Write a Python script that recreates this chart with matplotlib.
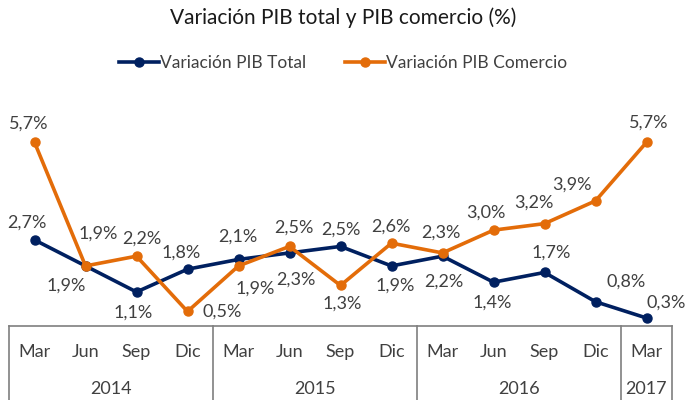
import matplotlib
matplotlib.use('Agg')
import matplotlib.pyplot as plt
import matplotlib.transforms as mtransforms
import numpy as np

plt.rcParams['font.family'] = ['Lato', 'DejaVu Sans']

months = ['Mar', 'Jun', 'Sep', 'Dic'] * 3 + ['Mar']
years = ['2014', '2015', '2016', '2017']
year_spans = [(0, 4), (4, 8), (8, 12), (12, 13)]

pib_total = [2.7, 1.9, 1.1, 1.8, 2.1, 2.3, 2.5, 1.9, 2.2, 1.4, 1.7, 0.8, 0.3]
pib_comercio = [5.7, 1.9, 2.2, 0.5, 1.9, 2.5, 1.3, 2.6, 2.3, 3.0, 3.2, 3.9, 5.7]

c_total = '#002060'
c_com = '#E36C09'
ctxt = '#404040'

# label offsets in pixels (dx, dy), dy positive = up
off_total = [(-8, 17), (-19, -20), (-3, -21), (-6, 17), (-1, 23), (6, -27),
             (0, 17), (4, -20), (1, -25), (-1, -20), (7, 20), (31, 20), (20, 15)]
off_com = [(-6, 19), (13, 32), (5, 18), (35, 0), (17, -23), (4, 19),
           (2, -18), (-1, 17), (-2, 20), (-8, 18), (-11, 21), (-24, 16), (2, 20)]

fs = 13

fig = plt.figure(figsize=(6.86, 4.0), dpi=100)
ax = fig.add_axes([9 / 686, 74 / 400, 663 / 686, 226 / 400])

x = np.arange(len(months)) + 0.5
ax.plot(x, pib_total, color=c_total, lw=2.6, marker='o', ms=6.5,
        label='Variación PIB Total', zorder=3)
ax.plot(x, pib_comercio, color=c_com, lw=2.6, marker='o', ms=6.5,
        label='Variación PIB Comercio', zorder=3)

for xi, v, (dx, dy) in zip(x, pib_total, off_total):
    ax.annotate(('%.1f%%' % v).replace('.', ','), (xi, v), xytext=(dx, dy),
                textcoords='offset pixels', ha='center', va='center',
                fontsize=fs, color=ctxt, annotation_clip=False)
for xi, v, (dx, dy) in zip(x, pib_comercio, off_com):
    ax.annotate(('%.1f%%' % v).replace('.', ','), (xi, v), xytext=(dx, dy),
                textcoords='offset pixels', ha='center', va='center',
                fontsize=fs, color=ctxt, annotation_clip=False)

ax.set_xlim(0, len(months))
ax.set_ylim(0.054, 7.0)
for s in ['left', 'right', 'top']:
    ax.spines[s].set_visible(False)
ax.spines['bottom'].set_color('#7f7f7f')
ax.spines['bottom'].set_linewidth(1.2)
ax.set_xticks([])
ax.set_yticks([])

# two-level category axis
trans = mtransforms.blended_transform_factory(ax.transData, ax.transAxes)
bounds = sorted(set([b for span in year_spans for b in span]))
for b in bounds:
    ax.plot([b, b], [0, -0.35], color='#7f7f7f', lw=1.2, transform=trans,
            clip_on=False)
for xi, m in zip(x, months):
    ax.text(xi, -0.115, m, transform=trans, ha='center', va='center',
            fontsize=fs, color=ctxt)
for (a, b), yr in zip(year_spans, years):
    ax.text((a + b) / 2., -0.279, yr, transform=trans, ha='center',
            va='center', fontsize=fs, color=ctxt)

fig.text(0.5, 1 - 18 / 400., 'Variación PIB total y PIB comercio (%)',
         ha='center', va='center', fontsize=15, color='#1a1a1a')
fig.legend(loc='center', bbox_to_anchor=(0.5, 1 - 63 / 400.), ncol=2,
           frameon=False, fontsize=12.5, handlelength=2.3, columnspacing=2.2,
           handletextpad=0.1, labelcolor=ctxt)

plt.savefig('out.png', dpi=100)
plt.close()
